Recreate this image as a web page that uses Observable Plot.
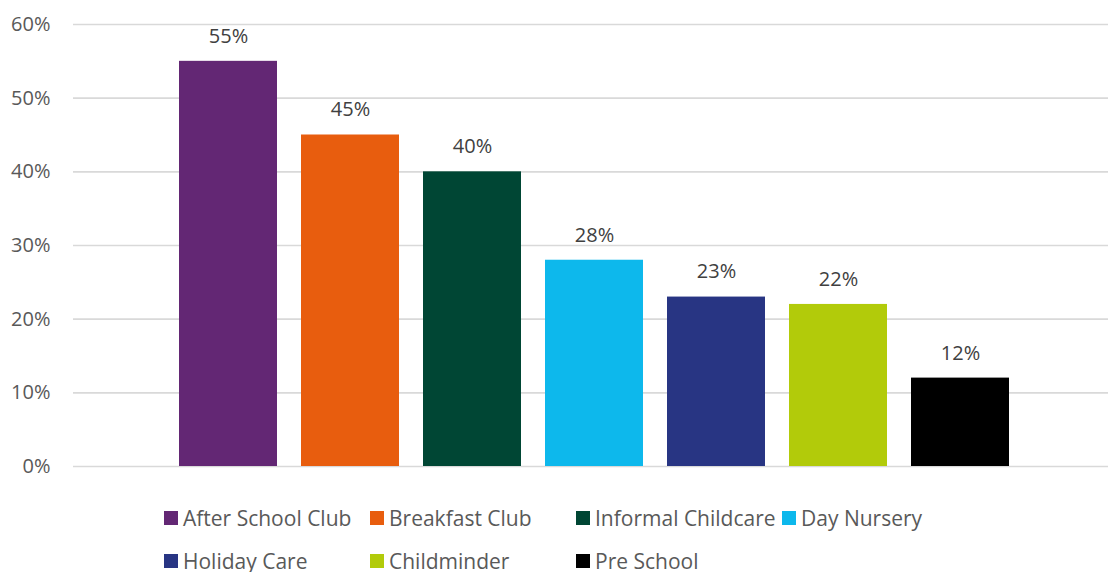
<!DOCTYPE html>
<html>
<head>
<meta charset="utf-8">
<script src="https://cdn.jsdelivr.net/npm/d3@7"></script>
<script src="https://cdn.jsdelivr.net/npm/@observablehq/plot@0.6"></script>
<style>
  html, body { margin: 0; padding: 0; background: #fff; }
  body { width: 1108px; height: 572px; overflow: hidden; font-family: "Open Sans", sans-serif; }
  #legend { position: relative; margin-left: 164px; display: grid; grid-template-columns: repeat(4, 206px); row-gap: 15px; margin-top: 14px; }
  .item { display: flex; align-items: center; height: 28px; font-size: 21px; color: #595959; white-space: nowrap; }
  .sw { width: 14px; height: 14px; margin-right: 5px; flex: none; }
</style>
</head>
<body>
<div id="chart"></div>
<div id="legend"></div>
<script>
const categories = ["After School Club", "Breakfast Club", "Informal Childcare", "Day Nursery", "Holiday Care", "Childminder", "Pre School"];
const values = [0.55, 0.45, 0.40, 0.28, 0.23, 0.22, 0.12];
const colors = ["#632774", "#E85D0E", "#004634", "#0DB8EC", "#283583", "#B2CB0A", "#000000"];
const yTicks = [0, 0.1, 0.2, 0.3, 0.4, 0.5, 0.6];

const data = categories.map((c, i) => ({category: c, value: values[i]}));

const chart = Plot.plot({
  width: 1108,
  height: 490,
  marginTop: 24,
  marginBottom: 24,
  marginLeft: 73,
  marginRight: 0,
  style: {fontFamily: "'Open Sans', sans-serif", fontSize: "20px", color: "#595959", background: "#fff"},
  x: {domain: categories, range: [165.25, 1022.75], paddingInner: 0.2, paddingOuter: 0.1, axis: null},
  y: {domain: [0, 0.6], ticks: yTicks, tickFormat: d3.format(".0%")},
  color: {domain: categories, range: colors},
  marks: [
    Plot.gridY(yTicks, {stroke: "#d9d9d9", strokeOpacity: 1, strokeWidth: 1.6}),
    Plot.axisY(yTicks, {tickSize: 0, tickPadding: 23, tickFormat: d3.format(".0%"), fill: "#595959", fontSize: 20, label: null}),
    Plot.barY(data, {x: "category", y: "value", fill: "category"}),
    Plot.text(data, {x: "category", y: "value", text: d => d3.format(".0%")(d.value), dy: -25, fill: "#404040", fontSize: 20})
  ]
});
document.getElementById("chart").appendChild(chart);

const legend = document.getElementById("legend");
categories.forEach((c, i) => {
  const item = document.createElement("div");
  item.className = "item";
  const sw = document.createElement("span");
  sw.className = "sw";
  sw.style.background = colors[i];
  const t = document.createElement("span");
  t.textContent = c;
  item.appendChild(sw);
  item.appendChild(t);
  legend.appendChild(item);
});
</script>
</body>
</html>
